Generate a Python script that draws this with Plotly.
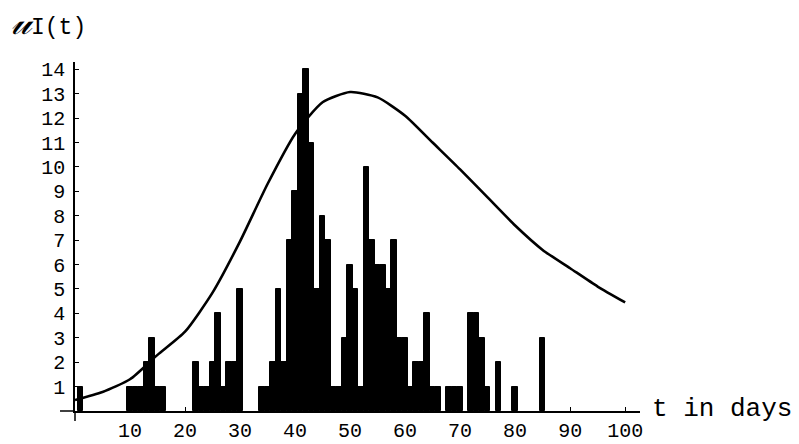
import plotly.graph_objects as go

# Daily counts (day, number)
days = [1,
        10, 11, 12, 13, 14, 15, 16,
        22, 23, 24, 25, 26, 27, 28, 29, 30,
        34, 35, 36, 37, 38, 39, 40, 41, 42, 43, 44, 45, 46, 47, 48, 49, 50,
        51, 52, 53, 54, 55, 56, 57, 58, 59, 60, 61, 62, 63, 64, 65, 66,
        68, 69, 70,
        72, 73, 74, 75,
        77, 80, 85]
counts = [1,
          1, 1, 1, 2, 3, 1, 1,
          2, 1, 1, 2, 4, 1, 2, 2, 5,
          1, 1, 2, 5, 2, 7, 9, 13, 14, 11, 5, 8, 7, 1, 1, 3, 6,
          5, 1, 10, 7, 6, 6, 5, 7, 3, 3, 1, 2, 2, 4, 1, 1,
          1, 1, 1,
          4, 4, 3, 1,
          2, 1, 3]

# Fitted curve
curve_t = [0, 5, 10, 15, 20, 25, 30, 35, 40, 45, 50, 55, 60, 65, 70, 75, 80, 85, 90, 95, 100]
curve_v = [0.45, 0.78, 1.3, 2.3, 3.25, 4.85, 6.95, 9.3, 11.35, 12.65, 13.07, 12.85, 12.1, 11.0, 9.9, 8.75, 7.6, 6.6, 5.85, 5.1, 4.45]

x_ticks = [10, 20, 30, 40, 50, 60, 70, 80, 90, 100]
y_ticks = list(range(1, 15))

MONO = "Liberation Mono, Courier New, monospace"

fig = go.Figure()
fig.add_trace(go.Bar(x=days, y=counts, width=1.0,
                     marker=dict(color="black", line=dict(color="black", width=1))))
fig.add_trace(go.Scatter(x=curve_t, y=curve_v, mode="lines",
                         line=dict(color="black", width=2.6, shape="spline", smoothing=0.6)))

fig.update_layout(
    width=799, height=444,
    margin=dict(l=74.5, r=159, t=62, b=32.5),
    paper_bgcolor="white", plot_bgcolor="white",
    showlegend=False, bargap=0,
    font=dict(family=MONO, size=20, color="black"),
)
fig.update_xaxes(range=[0, 102.7], tickvals=x_ticks, ticks="inside", ticklen=4,
                 tickwidth=1.2, tickcolor="black", showline=True, linecolor="black",
                 linewidth=1.5, showgrid=False, zeroline=False, automargin=False,
                 tickfont=dict(family=MONO, size=20), ticklabelstandoff=0)
fig.update_yaxes(range=[0, 14.3], tickvals=y_ticks, ticks="inside", ticklen=4,
                 tickwidth=1.2, tickcolor="black", showline=True, linecolor="black",
                 linewidth=1.5, showgrid=False, zeroline=False, automargin=False,
                 tickfont=dict(family=MONO, size=20), ticklabelstandoff=4)

# axis extensions beyond the origin
fig.add_shape(type="line", xref="paper", yref="paper", x0=-15/565.5, x1=0, y0=0, y1=0,
              line=dict(color="black", width=1.5))
fig.add_shape(type="line", xref="paper", yref="paper", x0=0, x1=0, y0=0, y1=-10/349.5,
              line=dict(color="black", width=1.5))

fig.add_annotation(text="t in days", xref="paper", yref="paper", x=1.0175, y=0.006,
                   xanchor="left", yanchor="middle", showarrow=False,
                   font=dict(family=MONO, size=26))
fig.add_annotation(text="<span style='font-family:DejaVu Serif;font-size:36px'><i>𝓊</i></span>I(t)",
                   xref="paper", yref="paper", x=-0.116, y=1.115,
                   xanchor="left", yanchor="middle", showarrow=False,
                   font=dict(family=MONO, size=23))

fig.write_html("out.html")
